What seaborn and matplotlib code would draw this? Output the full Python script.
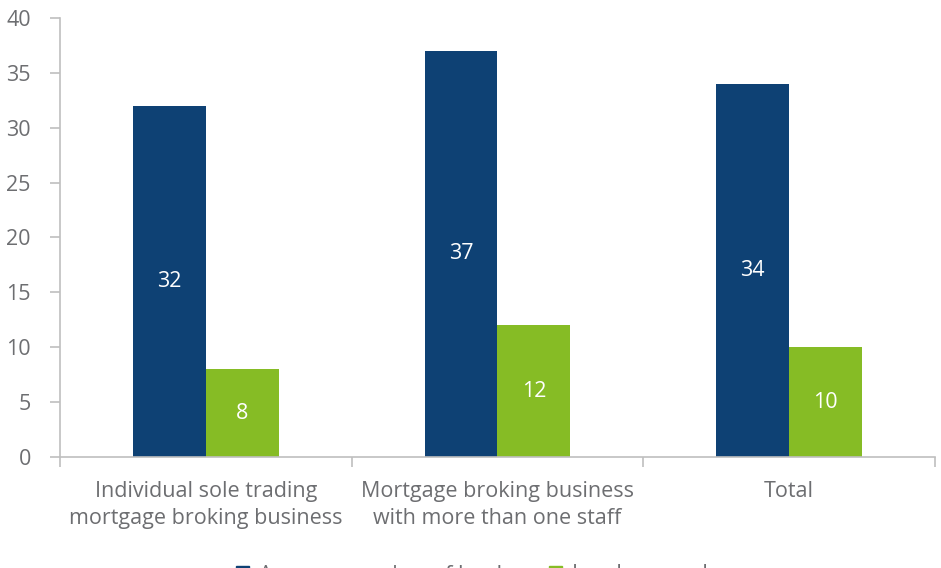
import matplotlib
matplotlib.use("Agg")
import matplotlib.pyplot as plt
import seaborn as sns
import pandas as pd
from matplotlib.ticker import FixedLocator

categories = ["Individual sole trading\nmortgage broking business",
              "Mortgage broking business\nwith more than one staff",
              "Total"]
series_names = ["Average number of lenders", "Lenders used"]
accredited = [32, 37, 34]
used = [8, 12, 10]
yticks = [0, 5, 10, 15, 20, 25, 30, 35, 40]

df = pd.DataFrame({
    "category": categories * 2,
    "series": [series_names[0]] * 3 + [series_names[1]] * 3,
    "value": accredited + used,
})

sns.set_theme(style="white")
plt.rcParams["font.family"] = ["Open Sans", "DejaVu Sans"]

FS = 15.5
grey_text = "#6D6E71"
grey_line = "#BFBFBF"
palette = {series_names[0]: "#0E4174", series_names[1]: "#86BC25"}

fig = plt.figure(figsize=(9.41, 5.68), dpi=100)
ax = fig.add_axes([60 / 941, 1 - 457 / 568, (935 - 60) / 941, (457 - 18) / 568])

sns.barplot(data=df, x="category", y="value", hue="series", palette=palette,
            width=0.5, saturation=1, linewidth=0, ax=ax, legend=False)

for cont in ax.containers:
    ax.bar_label(cont, label_type="center", color="white", fontsize=FS)

ax.set_xlim(-0.5, 2.5)
ax.set_ylim(0, 40)
ax.set_yticks(yticks)
ax.set_xlabel("")
ax.set_ylabel("")

for s in ["top", "right"]:
    ax.spines[s].set_visible(False)
for s in ["left", "bottom"]:
    ax.spines[s].set_color(grey_line)
    ax.spines[s].set_linewidth(1.2)

ax.tick_params(axis="y", which="major", direction="out", length=7, width=1.2,
               color=grey_line, labelcolor=grey_text, labelsize=FS, pad=14, left=True)
ax.tick_params(axis="x", which="major", length=0, labelcolor=grey_text,
               labelsize=FS, pad=17)
ax.xaxis.set_minor_locator(FixedLocator([-0.5, 0.5, 1.5, 2.5]))
ax.tick_params(axis="x", which="minor", direction="out", length=7, width=1.2,
               color=grey_line, bottom=True)
for lbl in ax.get_xticklabels():
    lbl.set_linespacing(1.42)

# legend sits at the bottom edge, mostly cropped as in the reference
for name, x0 in zip(series_names, [236, 549]):
    fig.legend([plt.Rectangle((0, 0), 1, 1, color=palette[name])], [name],
               loc="center left", bbox_to_anchor=(x0 / 941, 1 - 575 / 568),
               frameon=False, handlelength=0.6, handleheight=0.6,
               handletextpad=0.45, borderpad=0, borderaxespad=0,
               fontsize=FS, labelcolor=grey_text)

fig.savefig("out.png", dpi=100)
